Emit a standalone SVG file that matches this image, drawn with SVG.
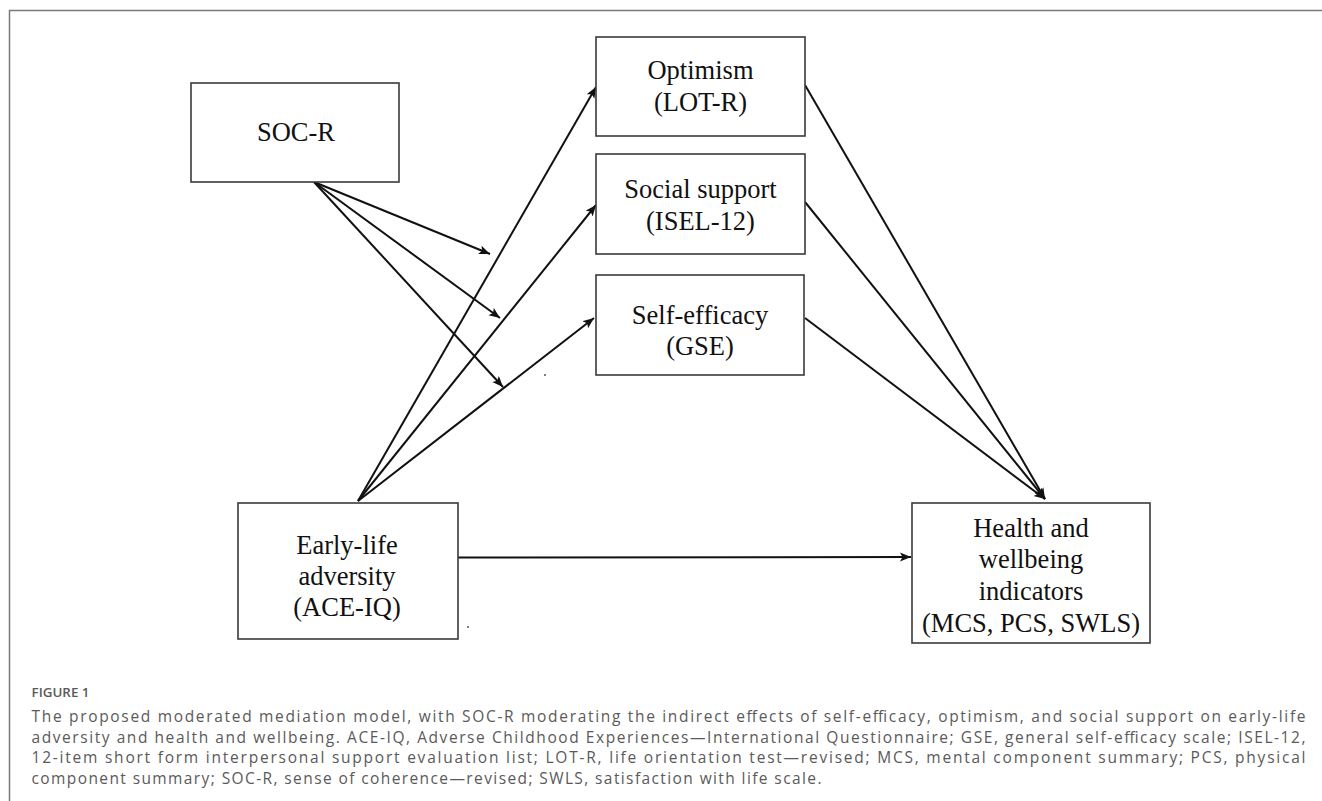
<svg xmlns="http://www.w3.org/2000/svg" width="1322" height="801" viewBox="0 0 1322 801">
<style>
.box{fill:#fff;stroke:#3a3a3a;stroke-width:1.6}
.lbl{font-family:"Liberation Serif","Times New Roman",serif;font-size:26.5px;fill:#111;text-anchor:middle}
.con{stroke:#111;stroke-width:2;fill:none}
.cap{font-family:"Open Sans","Lato",sans-serif;font-size:15.5px;fill:#5a5a5a}
.fig{font-family:"Open Sans","Lato",sans-serif;font-size:12.5px;font-weight:600;fill:#5a5a5a}
</style>
<defs>
<marker id="ah" markerUnits="userSpaceOnUse" markerWidth="12" markerHeight="10" refX="11" refY="4.5" orient="auto">
<path d="M0,0 L11,4.5 L0,9 L2.5,4.5 z" fill="#111"/>
</marker>
</defs>
<rect width="1322" height="801" fill="#fff"/>
<path d="M9.5,801 V10.5 H1322" fill="none" stroke="#7a7a7a" stroke-width="1.5"/>

<g id="connectors">
<line class="con" x1="314" y1="182" x2="490" y2="254" marker-end="url(#ah)"/>
<line class="con" x1="314" y1="182" x2="500" y2="318" marker-end="url(#ah)"/>
<line class="con" x1="314" y1="182" x2="503" y2="387" marker-end="url(#ah)"/>
<line class="con" x1="358" y1="501" x2="596" y2="87" marker-end="url(#ah)"/>
<line class="con" x1="358" y1="501" x2="596" y2="205" marker-end="url(#ah)"/>
<line class="con" x1="358" y1="501" x2="594" y2="318" marker-end="url(#ah)"/>
<line class="con" x1="805" y1="85" x2="1045" y2="499" marker-end="url(#ah)"/>
<line class="con" x1="805" y1="202" x2="1045" y2="499" marker-end="url(#ah)"/>
<line class="con" x1="805" y1="318" x2="1045" y2="499" marker-end="url(#ah)"/>
<line class="con" x1="458" y1="557.5" x2="911" y2="557" marker-end="url(#ah)"/>
</g>

<g id="soc-r">
<rect class="box" x="191" y="83" width="208" height="99"/>
<text class="lbl" x="296" y="141">SOC-R</text>
</g>
<g id="optimism">
<rect class="box" x="596" y="37" width="209" height="99"/>
<text class="lbl" x="700.5" y="79">Optimism</text>
<text class="lbl" x="700.5" y="111">(LOT-R)</text>
</g>
<g id="social-support">
<rect class="box" x="596" y="154" width="209" height="100"/>
<text class="lbl" x="700.5" y="198">Social support</text>
<text class="lbl" x="700.5" y="230">(ISEL-12)</text>
</g>
<g id="self-efficacy">
<rect class="box" x="596" y="275" width="208" height="100"/>
<text class="lbl" x="700" y="324">Self-efficacy</text>
<text class="lbl" x="700" y="355">(GSE)</text>
</g>
<g id="early-life">
<rect class="box" x="238" y="503" width="220" height="136"/>
<text class="lbl" x="347" y="554">Early-life</text>
<text class="lbl" x="347" y="585">adversity</text>
<text class="lbl" x="347" y="616">(ACE-IQ)</text>
</g>
<g id="health">
<rect class="box" x="912" y="503" width="238" height="140"/>
<text class="lbl" x="1031" y="537">Health and</text>
<text class="lbl" x="1031" y="568">wellbeing</text>
<text class="lbl" x="1031" y="600">indicators</text>
<text class="lbl" x="1031" y="632">(MCS, PCS, SWLS)</text>
</g>

<circle cx="545" cy="375" r="0.9" fill="#444"/>
<circle cx="468" cy="627" r="0.9" fill="#444"/>

<g id="caption">
<text class="fig" x="31.5" y="697" textLength="58" lengthAdjust="spacingAndGlyphs">FIGURE 1</text>
<text class="cap" x="31.5" y="722" textLength="1274" lengthAdjust="spacing">The proposed moderated mediation model, with SOC-R moderating the indirect effects of self-efficacy, optimism, and social support on early-life</text>
<text class="cap" x="31.5" y="742.5" textLength="1274" lengthAdjust="spacing">adversity and health and wellbeing. ACE-IQ, Adverse Childhood Experiences—International Questionnaire; GSE, general self-efficacy scale; ISEL-12,</text>
<text class="cap" x="31.5" y="763" textLength="1274" lengthAdjust="spacing">12-item short form interpersonal support evaluation list; LOT-R, life orientation test—revised; MCS, mental component summary; PCS, physical</text>
<text class="cap" x="31.5" y="783.5" textLength="790" lengthAdjust="spacing">component summary; SOC-R, sense of coherence—revised; SWLS, satisfaction with life scale.</text>
</g>
</svg>
